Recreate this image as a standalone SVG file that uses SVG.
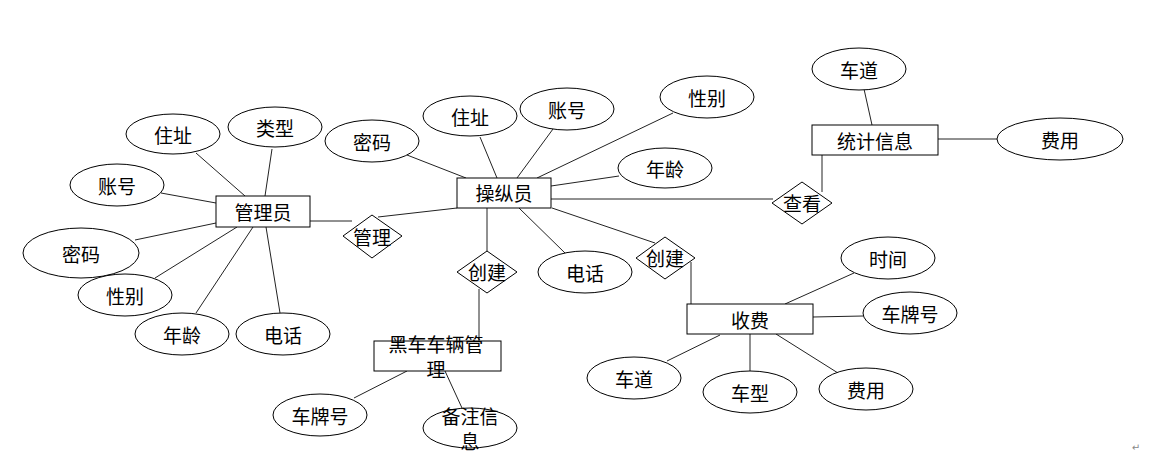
<svg xmlns="http://www.w3.org/2000/svg" width="1166" height="455" viewBox="0 0 1166 455">
<style>
.s{fill:#fff;stroke:#000;stroke-width:1}
.c line{stroke:#222;stroke-width:1}
.t{font-family:"Noto Sans CJK SC","Noto Sans CJK JP",sans-serif;font-size:19px;text-anchor:middle;dominant-baseline:central;fill:#000}
</style>
<rect width="1166" height="455" fill="#fff"/>
<g id="connectors" class="c">
<line x1="196" y1="153" x2="245" y2="196"/>
<line x1="272" y1="149" x2="265" y2="196"/>
<line x1="161" y1="193" x2="216" y2="203"/>
<line x1="135" y1="240" x2="216" y2="223"/>
<line x1="155" y1="278" x2="237" y2="227"/>
<line x1="196" y1="313" x2="253" y2="227"/>
<line x1="280" y1="313" x2="266" y2="227"/>
<line x1="310" y1="221" x2="352" y2="221"/>
<line x1="457" y1="208" x2="378" y2="217"/>
<line x1="407" y1="155" x2="466" y2="178"/>
<line x1="480" y1="137" x2="497" y2="178"/>
<line x1="553" y1="129" x2="517" y2="178"/>
<line x1="673" y1="113" x2="537" y2="178"/>
<line x1="619" y1="176" x2="551" y2="186"/>
<line x1="551" y1="199" x2="773" y2="199"/>
<line x1="487" y1="208" x2="487" y2="251"/>
<line x1="479" y1="289" x2="479" y2="341"/>
<line x1="519" y1="208" x2="565" y2="253"/>
<line x1="552" y1="208" x2="655" y2="243"/>
<line x1="691" y1="262" x2="691" y2="304"/>
<line x1="354" y1="398" x2="407" y2="371"/>
<line x1="445" y1="371" x2="462" y2="408"/>
<line x1="864" y1="89" x2="872" y2="125"/>
<line x1="938" y1="139" x2="997" y2="139"/>
<line x1="822" y1="155" x2="822" y2="192"/>
<line x1="854" y1="273" x2="785" y2="304"/>
<line x1="813" y1="317" x2="863" y2="316"/>
<line x1="750" y1="334" x2="750" y2="372"/>
<line x1="776" y1="334" x2="838" y2="373"/>
<line x1="667" y1="361" x2="720" y2="335"/>
</g>
<g id="n-manager"><rect class="s" x="216" y="196" width="94" height="31"/><text class="t" x="263" y="211">管理员</text></g>
<g id="n-m-addr"><ellipse class="s" cx="173" cy="134" rx="47" ry="20"/><text class="t" x="173" y="134">住址</text></g>
<g id="n-m-type"><ellipse class="s" cx="275" cy="127" rx="47" ry="20"/><text class="t" x="275" y="127">类型</text></g>
<g id="n-m-acct"><ellipse class="s" cx="117" cy="185" rx="47" ry="21"/><text class="t" x="117" y="185">账号</text></g>
<g id="n-m-pwd"><ellipse class="s" cx="81" cy="253" rx="58" ry="25"/><text class="t" x="81" y="253">密码</text></g>
<g id="n-m-sex"><ellipse class="s" cx="125" cy="295" rx="47" ry="21"/><text class="t" x="125" y="295">性别</text></g>
<g id="n-m-age"><ellipse class="s" cx="182" cy="334" rx="47" ry="21"/><text class="t" x="182" y="334">年龄</text></g>
<g id="n-m-tel"><ellipse class="s" cx="283" cy="334" rx="47" ry="21"/><text class="t" x="283" y="334">电话</text></g>
<g id="r-manage"><polygon class="s" points="343,236 372,215 402,236 372,258"/><text class="t" x="372" y="236">管理</text></g>
<g id="n-operator"><rect class="s" x="457" y="178" width="94" height="30"/><text class="t" x="504" y="192">操纵员</text></g>
<g id="n-o-pwd"><ellipse class="s" cx="372" cy="141" rx="47" ry="21"/><text class="t" x="372" y="141">密码</text></g>
<g id="n-o-addr"><ellipse class="s" cx="470" cy="116" rx="47" ry="20"/><text class="t" x="470" y="116">住址</text></g>
<g id="n-o-acct"><ellipse class="s" cx="567" cy="109" rx="47" ry="21"/><text class="t" x="567" y="109">账号</text></g>
<g id="n-o-sex"><ellipse class="s" cx="707" cy="97" rx="47" ry="21"/><text class="t" x="707" y="97">性别</text></g>
<g id="n-o-age"><ellipse class="s" cx="665" cy="168" rx="47" ry="20"/><text class="t" x="665" y="168">年龄</text></g>
<g id="n-o-tel"><ellipse class="s" cx="585" cy="272" rx="47" ry="21"/><text class="t" x="585" y="272">电话</text></g>
<g id="r-create1"><polygon class="s" points="457,272 487,251 517,272 487,293"/><text class="t" x="487" y="271">创建</text></g>
<g id="r-create2"><polygon class="s" points="636,258 665,237 695,258 665,279"/><text class="t" x="665" y="257">创建</text></g>
<g id="r-view"><polygon class="s" points="772,203 802,182 832,203 802,224"/><text class="t" x="802" y="202">查看</text></g>
<g id="n-black"><rect class="s" x="374" y="341" width="127" height="30"/><text class="t" x="436" y="343">黑车车辆管</text><text class="t" x="436" y="368">理</text></g>
<g id="n-b-plate"><ellipse class="s" cx="320" cy="415" rx="47" ry="21"/><text class="t" x="320" y="415">车牌号</text></g>
<g id="n-b-note"><ellipse class="s" cx="470" cy="428" rx="47" ry="20"/><text class="t" x="470" y="415">备注信</text><text class="t" x="470" y="440">息</text></g>
<g id="n-stat"><rect class="s" x="812" y="125" width="126" height="30"/><text class="t" x="875" y="140">统计信息</text></g>
<g id="n-s-lane"><ellipse class="s" cx="859" cy="69" rx="47" ry="21"/><text class="t" x="859" y="69">车道</text></g>
<g id="n-s-fee"><ellipse class="s" cx="1060" cy="139" rx="63" ry="21"/><text class="t" x="1060" y="139">费用</text></g>
<g id="n-charge"><rect class="s" x="687" y="304" width="126" height="30"/><text class="t" x="750" y="319">收费</text></g>
<g id="n-c-time"><ellipse class="s" cx="888" cy="258" rx="47" ry="21"/><text class="t" x="888" y="258">时间</text></g>
<g id="n-c-plate"><ellipse class="s" cx="910" cy="313" rx="47" ry="21"/><text class="t" x="910" y="313">车牌号</text></g>
<g id="n-c-lane"><ellipse class="s" cx="634" cy="378" rx="47" ry="21"/><text class="t" x="634" y="378">车道</text></g>
<g id="n-c-type"><ellipse class="s" cx="750" cy="392" rx="47" ry="21"/><text class="t" x="750" y="392">车型</text></g>
<g id="n-c-fee"><ellipse class="s" cx="866" cy="389" rx="47" ry="21"/><text class="t" x="866" y="389">费用</text></g>
<text x="1136" y="451" font-family="DejaVu Sans,sans-serif" font-size="10" fill="#888" text-anchor="middle">↵</text>
</svg>
